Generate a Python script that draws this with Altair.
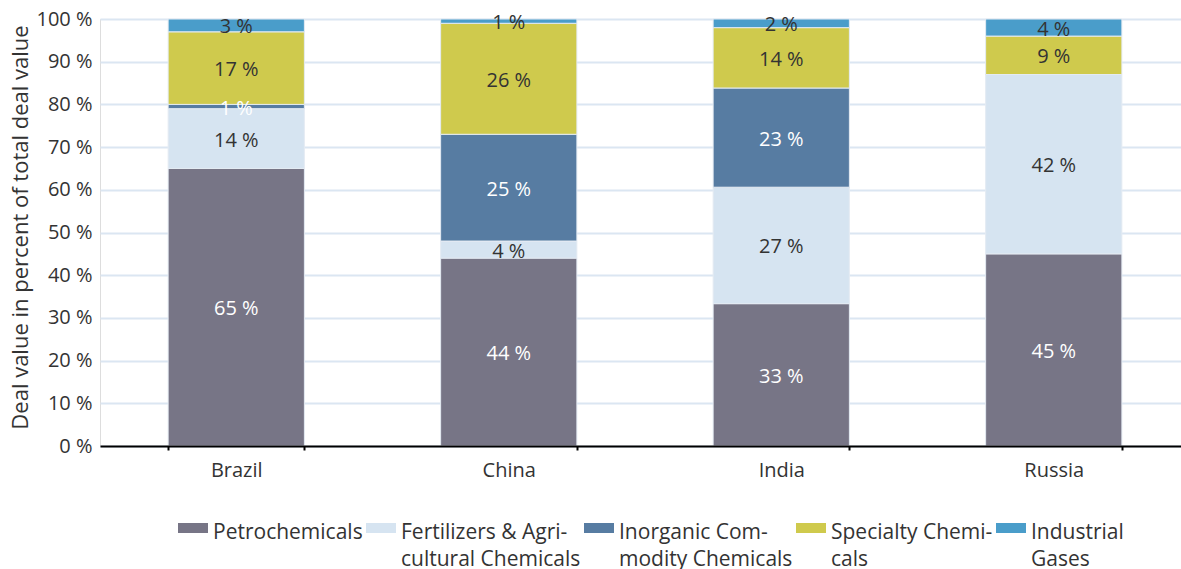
import altair as alt
import pandas as pd

# Deal value by segment, share of total per country (%)
countries = ["Brazil", "China", "India", "Russia"]
segments = [
    "Petrochemicals|",
    "Fertilizers & Agri-|cultural Chemicals",
    "Inorganic Com-|modity Chemicals",
    "Specialty Chemi-|cals",
    "Industrial|Gases",
]
petrochemicals = [65, 44, 33, 45]
fertilizers = [14, 4, 27, 42]
inorganic = [1, 25, 23, 0]
specialty = [17, 26, 14, 9]
industrial_gases = [3, 1, 2, 4]

colors = ["#777586", "#d6e4f1", "#577ca2", "#cfca4d", "#4a9dca"]
label_colors = ["white", "#333333", "white", "#333333", "#333333"]

series = [petrochemicals, fertilizers, inorganic, specialty, industrial_gases]
rows = []
for i, (seg, vals) in enumerate(zip(segments, series)):
    for c, v in zip(countries, vals):
        rows.append({"country": c, "segment": seg, "idx": i, "value": v,
                     "tcolor": label_colors[i]})
df = pd.DataFrame(rows)

FONT = "Open Sans"

base = alt.Chart(df).transform_stack(
    stack="value",
    groupby=["country"],
    as_=["v0", "v1"],
    offset="normalize",
    sort=[alt.SortField("idx", order="ascending")],
).transform_calculate(
    mid="(datum.v0 + datum.v1) / 2",
    label="datum.value + ' %'",
)

x_enc = alt.X(
    "country:N",
    sort=countries,
    scale=alt.Scale(paddingInner=0.5, paddingOuter=0.25),
    axis=alt.Axis(
        title=None, labelAngle=0, labelFontSize=20, labelColor="#333333",
        labelFont=FONT, labelPadding=10, domainColor="black", domainWidth=2,
        ticks=True, tickColor="black", tickWidth=2, tickSize=4,
        tickBand="extent", grid=False, zindex=1,
    ),
)

# rectangular legend swatch, set beside the first line of each label
swatch = "M-1,0.067H1V0.733H-1Z"

bars = base.mark_bar(stroke="#e4ebf3", strokeWidth=1).encode(
    x=x_enc,
    y=alt.Y(
        "v0:Q",
        scale=alt.Scale(domain=[0, 1], nice=False),
        axis=alt.Axis(
            title="Deal value in percent of total deal value",
            titleFontSize=22, titleFont=FONT, titleFontWeight="normal",
            titleColor="#333333", titlePadding=3, titleY=208,
            values=[i / 10 for i in range(11)],
            labelExpr="round(datum.value * 100) + ' %'",
            labelFontSize=20, labelFont=FONT, labelColor="#333333",
            labelPadding=8, ticks=False, domain=False,
            grid=True, gridColor="#dbe6f2", gridWidth=2,
        ),
    ),
    y2="v1:Q",
    color=alt.Color(
        "segment:N",
        scale=alt.Scale(domain=segments, range=colors),
        legend=alt.Legend(
            title=None, orient="none", legendX=78, legendY=488,
            direction="horizontal",
            symbolType=swatch, symbolSize=900,
            symbolStrokeWidth=0, symbolOpacity=1,
            labelExpr="split(datum.label, '|')",
            labelFontSize=21, labelFont=FONT, labelColor="#333333",
            labelOffset=5, labelBaseline="top", labelLimit=300,
            columnPadding=3,
        ),
    ),
)

texts = base.transform_filter("datum.value > 0").mark_text(
    fontSize=20, font=FONT, baseline="middle", dy=2,
).encode(
    x=alt.X("country:N", sort=countries),
    y=alt.Y("mid:Q"),
    text="label:N",
    color=alt.Color("tcolor:N", scale=None),
)

chart = alt.layer(bars, texts).properties(
    width=1090,
    height=427,
    autosize=alt.AutoSizeParams(type="none"),
    padding={"left": 100, "top": 19, "right": -9, "bottom": 123},
).configure_view(stroke=None).configure(
    style={"guide-label": {"lineHeight": 27}}
)

chart.save("out.html", embed_options={"renderer": "svg", "actions": False})
